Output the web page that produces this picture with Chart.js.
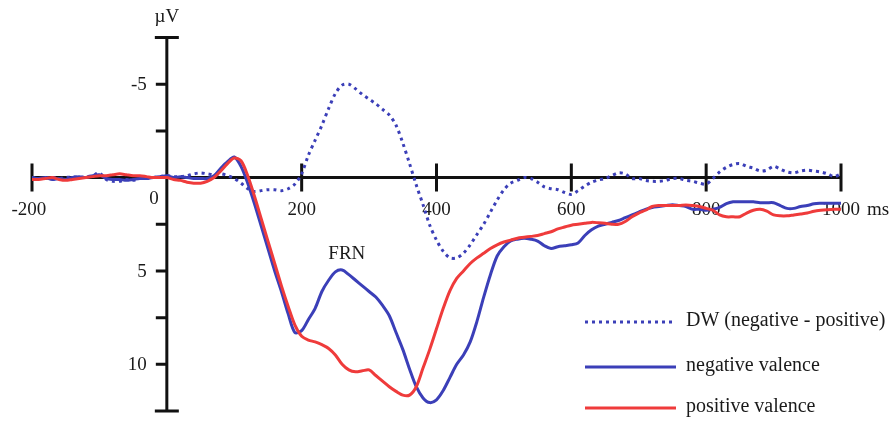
<!DOCTYPE html>
<html>
<head>
<meta charset="utf-8">
<script src="https://cdn.jsdelivr.net/npm/chart.js@4.4.1/dist/chart.umd.min.js"></script>
<style>
  html, body { margin: 0; padding: 0; background: #fff; }
  #wrap { width: 894px; height: 422px; }
</style>
</head>
<body>
<div id="wrap"><canvas id="erpChart" width="894" height="422"></canvas></div>
<script>
// time axis in ms, one sample every 10 ms
const times = [];
for (let t = -200; t <= 1000; t += 10) times.push(t);

// values in µV (negative is drawn up)
const negativeValence = [
  0.0, 0.05, 0.0, 0.1, 0.05, 0.1, 0.0, -0.05, 0.0, -0.1,
  -0.15, 0.05, 0.1, 0.1, 0.15, 0.1, 0.05, 0.05, 0.0, -0.05,
  -0.1, 0.0, -0.05, 0.0, 0.05, 0.05, 0.05, -0.1, -0.5, -0.85,
  -1.1, -0.6, 0.3, 1.4, 2.6, 3.8, 5.0, 6.1, 7.3, 8.3,
  8.2, 7.6, 7.0, 6.1, 5.5, 5.05, 4.95, 5.2, 5.5, 5.8,
  6.1, 6.4, 6.85, 7.4, 8.3, 9.2, 10.25, 11.2, 11.8, 12.05,
  11.9, 11.4, 10.7, 10.0, 9.5, 8.8, 7.7, 6.4, 5.2, 4.2,
  3.7, 3.4, 3.3, 3.25, 3.3, 3.4, 3.65, 3.8, 3.7, 3.65,
  3.6, 3.5, 3.1, 2.8, 2.6, 2.5, 2.4, 2.3, 2.15, 2.0,
  1.85, 1.7, 1.6, 1.55, 1.5, 1.45, 1.5, 1.55, 1.7, 1.7,
  1.75, 1.7, 1.6, 1.4, 1.3, 1.3, 1.3, 1.3, 1.35, 1.35,
  1.35, 1.5, 1.65, 1.65, 1.55, 1.5, 1.4, 1.38, 1.38, 1.38,
  1.38
];

const positiveValence = [
  0.1, 0.1, 0.05, 0.0, 0.1, 0.15, 0.1, 0.05, 0.0, -0.05,
  -0.1, -0.1, -0.15, -0.2, -0.15, -0.1, -0.1, -0.05, 0.0, 0.0,
  0.0, 0.1, 0.15, 0.25, 0.3, 0.3, 0.2, 0.0, -0.35, -0.75,
  -1.05, -0.9, -0.1, 1.0, 2.2, 3.4, 4.6, 5.8, 6.9, 7.9,
  8.5, 8.7, 8.8, 8.95, 9.15, 9.5, 10.0, 10.3, 10.4, 10.35,
  10.3, 10.6, 10.9, 11.2, 11.45, 11.65, 11.65, 11.2, 10.2, 9.2,
  8.1, 7.0, 6.05, 5.4, 5.0, 4.6, 4.3, 4.05, 3.8, 3.6,
  3.45, 3.35, 3.25, 3.2, 3.15, 3.1, 3.0, 2.9, 2.75, 2.65,
  2.55, 2.5, 2.45, 2.4, 2.42, 2.45, 2.5, 2.5, 2.35, 2.1,
  1.9, 1.75, 1.55, 1.5, 1.5, 1.5, 1.5, 1.47, 1.5, 1.55,
  1.65, 1.75, 2.0, 2.1, 2.1, 2.1, 1.9, 1.75, 1.7, 1.8,
  2.0, 2.05, 2.05, 2.0, 1.95, 1.9, 1.8, 1.75, 1.72, 1.7,
  1.7
];

const diffWave = [
  0.0, 0.05, 0.05, 0.0, 0.05, 0.0, -0.05, 0.0, -0.05, -0.1,
  -0.25, 0.1, 0.2, 0.2, 0.1, 0.15, 0.05, 0.05, 0.0, -0.05,
  -0.1, -0.05, -0.05, -0.1, -0.2, -0.25, -0.2, -0.15, -0.2, -0.1,
  0.05, 0.3, 0.6, 0.75, 0.7, 0.65, 0.65, 0.7, 0.6, 0.35,
  -0.2, -1.2, -2.0, -2.8, -3.7, -4.5, -4.95, -5.0, -4.75, -4.45,
  -4.2, -3.95, -3.65, -3.35, -2.8, -1.85, -0.75, 0.4, 1.45, 2.55,
  3.35, 3.95, 4.3, 4.3, 4.05, 3.6, 3.05, 2.5, 1.85, 1.2,
  0.65, 0.3, 0.15, 0.0, 0.05, 0.25, 0.5, 0.6, 0.65, 0.8,
  0.9, 0.7, 0.45, 0.25, 0.13, 0.05, -0.1, -0.25, -0.2, 0.05,
  0.05, 0.15, 0.2, 0.2, 0.15, 0.05, 0.05, 0.15, 0.2, 0.3,
  0.35, 0.05, -0.3, -0.55, -0.7, -0.75, -0.6, -0.5, -0.35, -0.4,
  -0.6, -0.45, -0.3, -0.25, -0.35, -0.4, -0.35, -0.3, -0.2, -0.05,
  -0.2
];

const xTicks = [-200, 200, 400, 600, 800, 1000];
const yTicks = [-5, -2.5, 2.5, 5, 7.5, 10];
const yLabels = [-5, 5, 10];
const legendLabels = ["DW (negative - positive)", "negative valence", "positive valence"];

const BLUE = "#3b3fb8";
const RED = "#ef3b3b";
const FONT = "19px 'Liberation Serif', 'Times New Roman', serif";
const LEGEND_FONT = "20px 'Liberation Serif', 'Times New Roman', serif";

function pts(vals) {
  return times.map((t, i) => ({ x: t, y: vals[i] }));
}

const axesPlugin = {
  id: "erpAxes",
  beforeDatasetsDraw(chart) {
    const ctx = chart.ctx;
    const xs = chart.scales.x, ys = chart.scales.y;
    const x0 = xs.getPixelForValue(0), y0 = ys.getPixelForValue(0);
    const xl = xs.getPixelForValue(-200), xr = xs.getPixelForValue(1000);
    const yt = ys.getPixelForValue(-7.5), yb = ys.getPixelForValue(12.5);
    ctx.save();
    ctx.strokeStyle = "#111";
    ctx.lineWidth = 3;
    ctx.lineCap = "butt";
    ctx.beginPath();
    ctx.moveTo(xl, y0); ctx.lineTo(xr, y0);
    ctx.moveTo(x0, yt); ctx.lineTo(x0, yb);
    // x ticks cross the axis
    xTicks.forEach(v => {
      const p = xs.getPixelForValue(v);
      ctx.moveTo(p, y0 - 14); ctx.lineTo(p, y0 + 14);
    });
    // end caps of the y axis
    ctx.moveTo(x0 - 12, yt); ctx.lineTo(x0 + 12, yt);
    ctx.moveTo(x0 - 12, yb); ctx.lineTo(x0 + 12, yb);
    yTicks.forEach(v => {
      const p = ys.getPixelForValue(v);
      ctx.moveTo(x0 - 11, p); ctx.lineTo(x0, p);
    });
    ctx.stroke();

    ctx.fillStyle = "#1a1a1a";
    ctx.font = FONT;
    ctx.textBaseline = "middle";
    ctx.textAlign = "center";
    const minusW = ctx.measureText("-").width;
    xTicks.forEach(v => {
      // digits centred on the tick, minus sign hangs to the left
      const shift = v < 0 ? minusW / 2 : 0;
      ctx.fillText(String(v), xs.getPixelForValue(v) - shift, y0 + 32);
    });
    ctx.textAlign = "left";
    ctx.fillText("ms", xr + 26, y0 + 32);
    ctx.textAlign = "right";
    yLabels.forEach(v => {
      ctx.fillText(String(v), x0 - 20, ys.getPixelForValue(v) + 1);
    });
    ctx.fillText("0", x0 - 8, y0 + 21);
    ctx.textAlign = "center";
    ctx.fillText("µV", x0, 17);
    ctx.fillText("FRN", xs.getPixelForValue(267), ys.getPixelForValue(4.1));
    ctx.restore();
  },
  afterDatasetsDraw(chart) {
    const ctx = chart.ctx;
    const rows = [
      { y: 322, color: BLUE, dash: [3, 4] },
      { y: 367, color: BLUE, dash: [] },
      { y: 408, color: RED, dash: [] }
    ];
    ctx.save();
    ctx.font = LEGEND_FONT;
    ctx.textBaseline = "middle";
    ctx.textAlign = "left";
    rows.forEach((r, i) => {
      ctx.strokeStyle = r.color;
      ctx.lineWidth = 3;
      ctx.setLineDash(r.dash);
      ctx.beginPath();
      ctx.moveTo(585, r.y); ctx.lineTo(676, r.y);
      ctx.stroke();
      ctx.fillStyle = "#1a1a1a";
      ctx.fillText(legendLabels[i], 686, r.y - 1);
    });
    ctx.restore();
  }
};

new Chart(document.getElementById("erpChart"), {
  type: "line",
  data: {
    datasets: [
      { label: legendLabels[2], data: pts(positiveValence), borderColor: RED, borderWidth: 3, pointRadius: 0, tension: 0.3 },
      { label: legendLabels[1], data: pts(negativeValence), borderColor: BLUE, borderWidth: 3, pointRadius: 0, tension: 0.3 },
      { label: legendLabels[0], data: pts(diffWave), borderColor: BLUE, borderWidth: 3, borderDash: [3, 4], pointRadius: 0, tension: 0.3 }
    ]
  },
  options: {
    responsive: false,
    animation: false,
    layout: { padding: { left: 32, right: 53, top: 37.5, bottom: 11 } },
    plugins: { legend: { display: false }, tooltip: { enabled: false } },
    scales: {
      x: { type: "linear", min: -200, max: 1000, display: false },
      y: { min: -7.5, max: 12.5, reverse: true, display: false }
    }
  },
  plugins: [axesPlugin]
});
</script>
</body>
</html>
